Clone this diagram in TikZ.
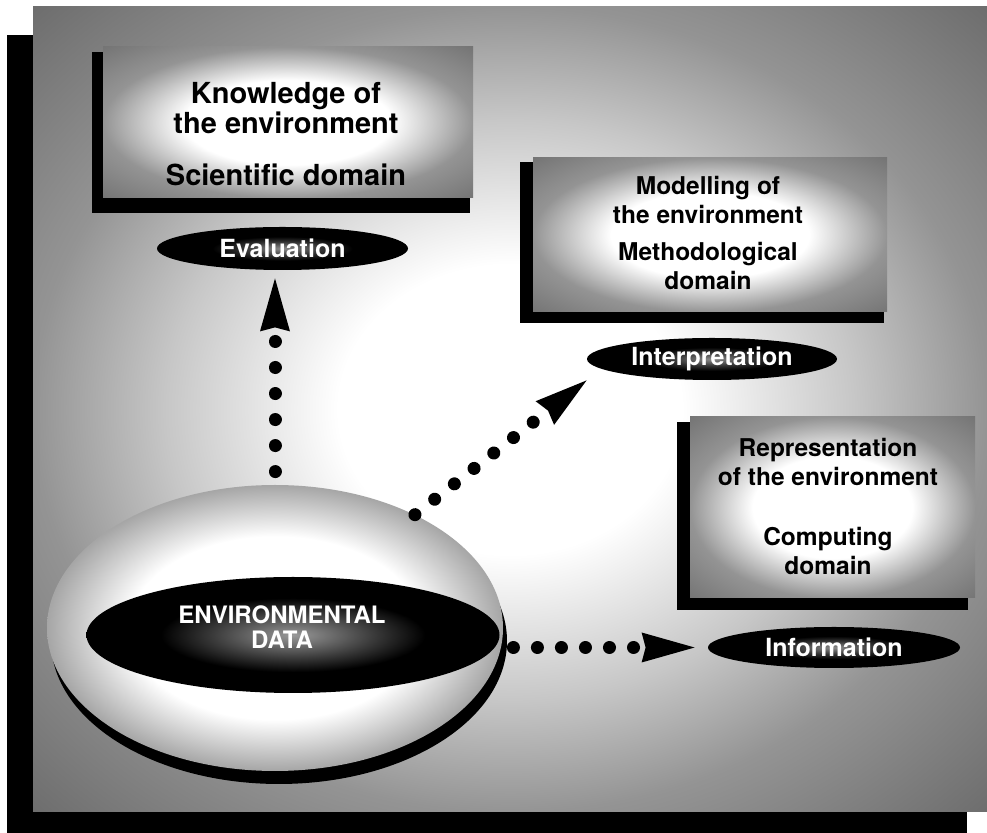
\documentclass[tikz,border=0pt]{standalone}
\usepackage{fontspec}
\setmainfont{TeX Gyre Heros}
\usetikzlibrary{arrows.meta,shapes.geometric,calc}
\pgfdeclareradialshading{panelshade}{\pgfpoint{0bp}{0bp}}{color(0bp)=(white); color(9bp)=(white); color(18bp)=(black!22); color(25bp)=(black!42); color(36bp)=(black!58)}
\pgfdeclareradialshading{boxshade}{\pgfpoint{0bp}{0bp}}{color(0bp)=(white); color(14bp)=(white); color(25bp)=(black!42); color(36bp)=(black!55)}
\pgfdeclareradialshading{labelshade}{\pgfpoint{0bp}{0bp}}{color(0bp)=(black!45); color(8bp)=(black!80); color(14bp)=(black); color(36bp)=(black)}
\pgfdeclareradialshading{bowlshade}{\pgfpoint{0bp}{0bp}}{color(0bp)=(white); color(16bp)=(white); color(25bp)=(black!35); color(36bp)=(black!45)}
\pgfdeclareradialshading{envshade}{\pgfpoint{0bp}{0bp}}{color(0bp)=(black!40); color(10bp)=(black!78); color(16bp)=(black); color(36bp)=(black)}
\tikzset{
  lightbox/.style={rectangle, inner sep=0pt, shade, shading=boxshade},
  bigtext/.style={align=center, font=\fontsize{14.5}{15}\bfseries\selectfont},
  boxtext/.style={align=center, font=\fontsize{12.25}{14.5}\bfseries\selectfont},
  labelellipse/.style={ellipse, inner sep=0pt, shade, shading=labelshade, text=white, font=\fontsize{12.5}{14}\bfseries\selectfont},
  dotarrow/.style={line width=6.5pt, line cap=round, dash pattern=on 0.01pt off #1,
    -{Stealth[length=26.5pt, width=15pt, inset=2pt, line width=0pt]}}
}
\begin{document}
\begin{tikzpicture}[x=0.5pt,y=-0.5pt]
\useasboundingbox (0,0) rectangle (987,833);
\fill[white] (0,0) rectangle (987,833);
% frame and panel
\fill[black] (7,35) rectangle (967,833);
\shade[shading=panelshade] (33,7) rectangle (987,812);
% box shadows
\fill[black] (92,52) rectangle (470,213);
\fill[black] (520,162) rectangle (884,323);
\fill[black] (677,422) rectangle (968,610);
% boxes
\node[lightbox, minimum width=185pt, minimum height=75.5pt] (box1) at (288,122.5) {};
\node[lightbox, minimum width=177pt, minimum height=77pt] (box2) at (710,235) {};
\node[lightbox, minimum width=142.5pt, minimum height=90.5pt] (box3) at (832.5,507.5) {};
\node[bigtext] (t1) at (286,134) {Knowledge of\\the environment\\[11pt]Scientific domain};
\node[boxtext] (t2) at (708,232.5) {Modelling of\\the environment\\[4pt]Methodological\\domain};
\node[boxtext] (t3) at (828,506) {Representation\\of the environment\\[15.5pt]Computing\\domain};
% label ellipses
\node[labelellipse, minimum width=125.5pt, minimum height=21.5pt] (eval) at (282.5,248.5) {Evaluation};
\node[labelellipse, minimum width=125pt, minimum height=21pt] (interp) at (712,359) {Interpretation};
\node[labelellipse, minimum width=126pt, minimum height=20.5pt] (info) at (834,647.5) {Information};
% bowl
\fill[black] (279,641) ellipse [x radius=114pt, y radius=71.5pt];
\node[ellipse, minimum width=228pt, minimum height=143pt, inner sep=0pt, shade, shading=bowlshade] (bowl) at (275,628) {};
\node[ellipse, minimum width=206.5pt, minimum height=58pt, inner sep=0pt, shade, shading=envshade] (envdata) at (293,635) {};
\node[text=white, align=center, font=\fontsize{12}{12.5}\bfseries\selectfont] (envtext) at (282,627.5) {ENVIRONMENTAL\\DATA};
% connectors
\draw[dotarrow=13pt, shorten >=4pt] ([yshift=6.5pt]bowl.north) -- (bowl.north |- eval.south);
\draw[dotarrow=12.5pt] (bowl.39) -- (interp.west |- interp.south);
\draw[dotarrow=12pt, shorten >=6.5pt] ($(bowl.east |- info.west)+(10,0)$) -- (info.west);
\end{tikzpicture}
\end{document}
